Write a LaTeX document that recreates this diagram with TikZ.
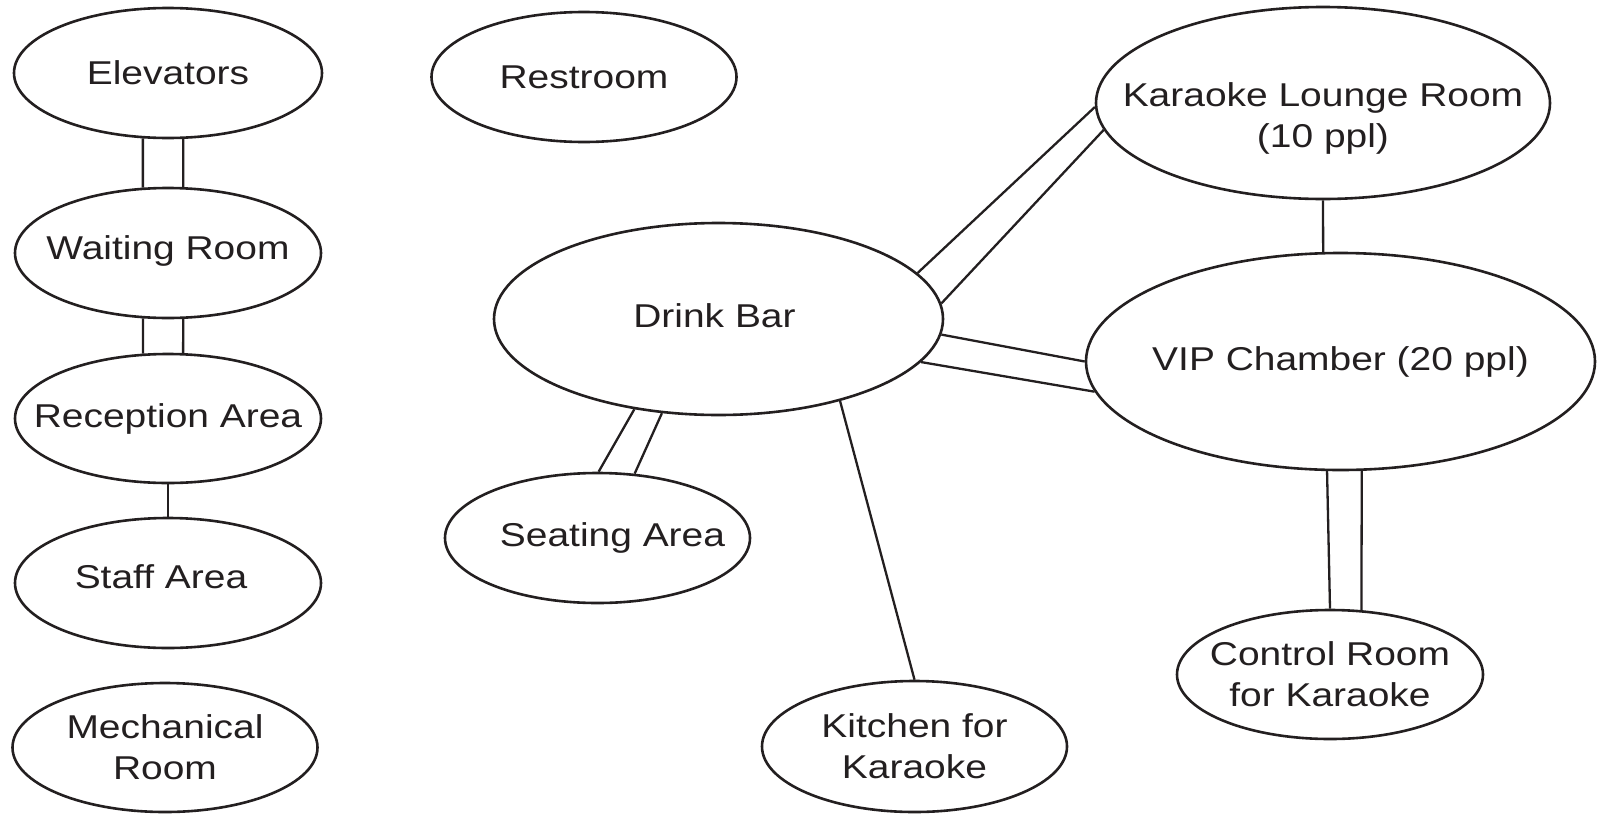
\documentclass[tikz,border=0pt]{standalone}
\usepackage{fontspec}
\setmainfont{Liberation Sans}[FakeStretch=1.18]
\usetikzlibrary{shapes.geometric}
\definecolor{ink}{HTML}{231F20}
\begin{document}
\begin{tikzpicture}[x=1pt,y=-1pt,
  room/.style 2 args={ellipse, draw=ink, line width=2.6pt, fill=white, inner sep=0pt, minimum width=#1pt, minimum height=#2pt},
  txt/.style={text=ink, font=\fontsize{33}{41}\selectfont, align=center, inner sep=0pt},
  link/.style={draw=ink, line width=2.3pt}]
\useasboundingbox (0,0) rectangle (1608,814);
% rooms
\node[room={308}{130}] (elev)  at (168,73) {};
\node[room={306}{130}] (wait)  at (168,253) {};
\node[room={306}{129}] (recep) at (168,418.5) {};
\node[room={306}{130}] (staff) at (168,583) {};
\node[room={305}{129}] (mech)  at (165,747.5) {};
\node[room={305}{130}] (rest)  at (584,77) {};
\node[room={454}{192}] (kara)  at (1323,103) {};
\node[room={449}{192}] (drink) at (718.5,319) {};
\node[room={509}{217}] (vip)   at (1340.5,361.5) {};
\node[room={305}{130}] (seat)  at (597.5,538) {};
\node[room={305}{131}] (kitch) at (914.5,746.5) {};
\node[room={306}{129}] (ctrl)  at (1330,674.5) {};
% texts
\node[txt] (elev-t)  at (elev.center) {Elevators};
\node[txt] (wait-t)  at ([yshift=2pt]wait.center) {Waiting Room};
\node[txt] (recep-t) at (recep.center) {Reception Area};
\node[txt] (staff-t) at ([shift={(-7pt,6pt)}]staff.center) {Staff Area};
\node[txt] (mech-t)  at (mech.center) {Mechanical\\Room};
\node[txt] (rest-t)  at (rest.center) {Restroom};
\node[txt] (kara-t)  at ([yshift=-15pt]kara.center) {Karaoke Lounge Room\\(10 ppl)};
\node[txt] (drink-t) at ([shift={(-4pt,3pt)}]drink.center) {Drink Bar};
\node[txt] (vip-t)   at (vip.center) {VIP Chamber (20 ppl)};
\node[txt] (seat-t)  at ([xshift=15pt]seat.center) {Seating Area};
\node[txt] (kitch-t) at (kitch.center) {Kitchen for\\Karaoke};
\node[txt] (ctrl-t)  at (ctrl.center) {Control Room\\for Karaoke};
% connectors
\draw[link] (elev.-111.3) -- (wait.111.3);
\draw[link] (elev.-77.8) -- (wait.77.8);
\draw[link] (wait.-111.1) -- (recep.111.1);
\draw[link] (wait.-77.5) -- (recep.77.5);
\draw[link] (recep.south) -- (staff.north);
\draw[link] (kara.south) -- (vip.99.2);
\draw[link] (drink.13.9) -- (kara.181);
\draw[link] (drink.4.9) -- (kara.187.1);
\draw[link] (drink.-4.9) -- (vip.180);
\draw[link] (drink.-12.3) -- (vip.187.3);
\draw[link] (drink.-133.5) -- (seat.89);
\draw[link] (drink.-121.6) -- (seat.60.7);
\draw[link] (drink.-34.9) -- (kitch.north);
\draw[link] (vip.-97.1) -- (ctrl.north);
\draw[link] (vip.-79.8) -- (ctrl.64.6);
\end{tikzpicture}
\end{document}
